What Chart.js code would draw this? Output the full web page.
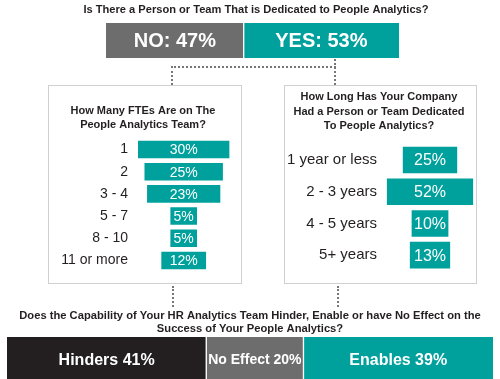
<!DOCTYPE html>
<html><head><meta charset="utf-8">
<script src="https://cdn.jsdelivr.net/npm/chart.js@4.4.1/dist/chart.umd.min.js"></script>
<style>
html,body{margin:0;padding:0;background:#fff;width:500px;height:379px;overflow:hidden;position:relative}
canvas{position:absolute}
.box{position:absolute;border:1px solid #d0d0d0;box-sizing:border-box;pointer-events:none}
.dv{position:absolute;border-left:2px dotted #777;width:0}
.dh{position:absolute;border-top:2px dotted #777;height:0}
</style></head><body>
<canvas id="top" width="500" height="58" style="left:0;top:0"></canvas>
<canvas id="fte" width="194" height="199" style="left:48px;top:85px"></canvas>
<div class="box" style="left:48px;top:85px;width:194px;height:199px"></div>
<canvas id="tenure" width="193" height="199" style="left:284px;top:85px"></canvas>
<div class="box" style="left:284px;top:85px;width:193px;height:199px"></div>
<canvas id="impact" width="500" height="82" style="left:0;top:300px"></canvas>
<div class="dv" style="left:334px;top:59px;height:26px"></div>
<div class="dh" style="left:171px;top:66px;width:165px"></div>
<div class="dv" style="left:171px;top:66px;height:19px"></div>
<div class="dv" style="left:172px;top:286px;height:21px"></div>
<div class="dv" style="left:337px;top:286px;height:21px"></div>
<script>
// ---- data ----
const dedicatedTitle = 'Is There a Person or Team That is Dedicated to People Analytics?';
const dedicatedLabels = ['NO', 'YES'];
const dedicatedValues = [47, 53];

const fteTitle = ['How Many FTEs Are on The', 'People Analytics Team?'];
const fteCategories = ['1', '2', '3 - 4', '5 - 7', '8 - 10', '11 or more'];
const fteValues = [30, 25, 23, 5, 5, 12];

const tenureTitle = ['How Long Has Your Company', 'Had a Person or Team Dedicated', 'To People Analytics?'];
const tenureCategories = ['1 year or less', '2 - 3 years', '4 - 5 years', '5+ years'];
const tenureValues = [25, 52, 10, 13];

const impactTitle = ['Does the Capability of Your HR Analytics Team Hinder, Enable or have No Effect on the', 'Success of Your People Analytics?'];
const impactLabels = ['Hinders', 'No Effect', 'Enables'];
const impactValues = [41, 20, 39];

// ---- styles ----
const FAMILY = "'Liberation Sans', Arial, Helvetica, sans-serif";
const TEAL = '#00a19c', GRAY = '#6d6d6d', DARK = '#231f20', TEXT = '#231f20';
Chart.defaults.font.family = FAMILY;

function barText(id, fmt, fontFor) {
  return {
    id,
    afterDatasetsDraw(chart) {
      const ctx = chart.ctx;
      ctx.save();
      ctx.fillStyle = '#ffffff';
      ctx.textAlign = 'center';
      ctx.textBaseline = 'middle';
      chart.data.datasets.forEach((ds, di) => {
        chart.getDatasetMeta(di).data.forEach((el, i) => {
          const p = el.getProps(['x', 'y', 'base'], true);
          ctx.font = fontFor(di, i);
          ctx.fillText(fmt(di, i), (p.x + p.base) / 2, p.y + 1);
        });
      });
      ctx.restore();
    }
  };
}

const common = { responsive: false, animation: false, events: [] };

// ---- top chart ----
const topColors = [GRAY, TEAL];
new Chart(document.getElementById('top'), {
  type: 'bar',
  data: {
    labels: [''],
    datasets: dedicatedLabels.map((l, i) => ({
      label: l, data: [dedicatedValues[i]], backgroundColor: topColors[i],
      borderColor: '#ffffff', borderWidth: i === 0 ? { right: 1 } : { left: 1 },
      borderSkipped: false, barPercentage: 1, categoryPercentage: 1
    }))
  },
  options: Object.assign({}, common, {
    indexAxis: 'y',
    layout: { padding: { left: 12, right: 0, top: 0, bottom: 0 } },
    scales: {
      x: { stacked: true, display: false, min: -32.08, max: 134.47 },
      y: { stacked: true, display: false }
    },
    plugins: {
      legend: { display: false }, tooltip: { enabled: false },
      title: { display: true, text: dedicatedTitle, color: TEXT,
        font: { size: 11.1, weight: 'bold', lineHeight: 1.2 }, padding: { top: 2.9, bottom: 6.9 } }
    }
  }),
  plugins: [barText('topText', (di) => dedicatedLabels[di] + ': ' + dedicatedValues[di] + '%', () => 'bold 20px ' + FAMILY)]
});

// ---- panel charts ----
function panel(id, title, cats, vals, o) {
  new Chart(document.getElementById(id), {
    type: 'bar',
    data: {
      labels: cats,
      datasets: [{
        data: vals.map(v => [-(v / 2 + o.pad), v / 2 + o.pad]),
        backgroundColor: TEAL, borderWidth: 0,
        barPercentage: o.barPct, categoryPercentage: 1
      }]
    },
    options: Object.assign({}, common, {
      indexAxis: 'y',
      layout: { padding: { left: 0, right: o.right, top: 0, bottom: o.bottom } },
      scales: {
        x: { display: false, min: o.min, max: o.max },
        y: {
          grid: { display: false, drawTicks: false }, border: { display: false },
          ticks: { color: TEXT, padding: 4, font: { size: o.tickSize } },
          afterFit: (s) => { s.width = o.axisW; }
        }
      },
      plugins: {
        legend: { display: false }, tooltip: { enabled: false },
        title: { display: true, text: title, color: TEXT,
          font: { size: 11, weight: 'bold', lineHeight: o.lh }, padding: o.tpad }
      }
    }),
    plugins: [barText(id + 'Text', (di, i) => vals[i] + '%', () => o.valSize + 'px ' + FAMILY)]
  });
}

panel('fte', fteTitle, fteCategories, fteValues, {
  pad: 2.64, barPct: 0.79, right: 4, bottom: 5.7, min: -19.96, max: 20.97,
  tickSize: 14, axisW: 84, lh: 14 / 11, tpad: { top: 19, bottom: 6.35 }, valSize: 14
});
panel('tenure', tenureTitle, tenureCategories, tenureValues, {
  pad: 10.6, barPct: 0.84, right: 3, bottom: 11.4, min: -41.6, max: 37.35,
  tickSize: 15, axisW: 97, lh: 1.3, tpad: { top: 5.15, bottom: 11.15 }, valSize: 16
});

// ---- bottom chart ----
const impactColors = [DARK, GRAY, TEAL];
new Chart(document.getElementById('impact'), {
  type: 'bar',
  data: {
    labels: [''],
    datasets: impactLabels.map((l, i) => ({
      label: l, data: [impactValues[i]], backgroundColor: impactColors[i],
      borderColor: '#ffffff',
      borderWidth: i === 0 ? { right: 1 } : (i === 1 ? { left: 1, right: 1 } : { left: 1 }),
      borderSkipped: false, barPercentage: 1, categoryPercentage: 1
    }))
  },
  options: Object.assign({}, common, {
    indexAxis: 'y',
    layout: { padding: { left: 7, right: 7, top: 0, bottom: 0 } },
    scales: {
      x: { stacked: true, display: false, min: 0, max: 100 },
      y: { stacked: true, display: false }
    },
    plugins: {
      legend: { display: false }, tooltip: { enabled: false },
      title: { display: true, text: impactTitle, color: TEXT,
        font: { size: 11.2, weight: 'bold', lineHeight: 13 / 11.2 }, padding: { top: 9.5, bottom: 1.5 } }
    }
  }),
  plugins: [barText('impactText', (di) => impactLabels[di] + ' ' + impactValues[di] + '%',
    (di) => 'bold ' + (di === 1 ? 14 : 16) + 'px ' + FAMILY)]
});
</script>
</body></html>
